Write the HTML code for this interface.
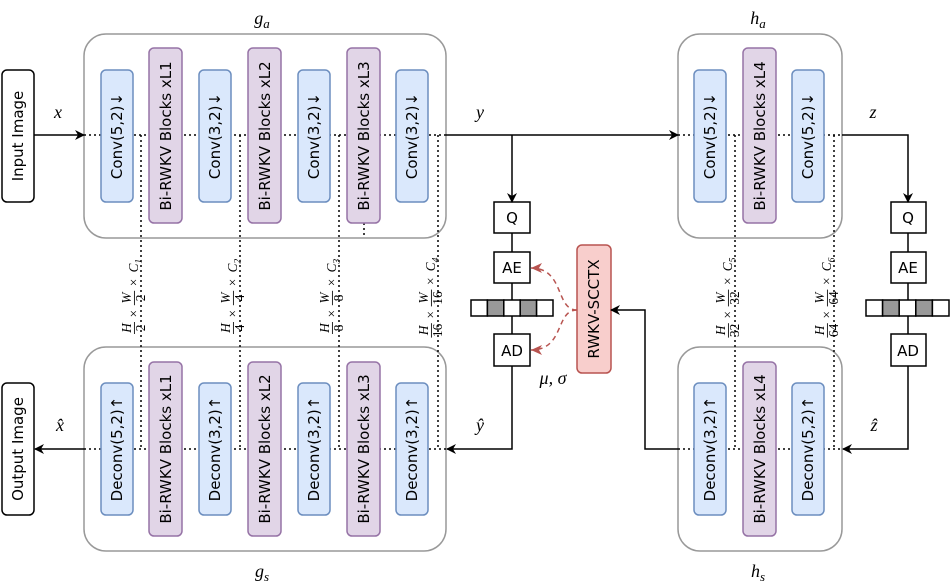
<!DOCTYPE html>
<html><head><meta charset="utf-8"><style>
html,body{margin:0;padding:0;background:#fff}
svg{display:block}
.t{font-family:"DejaVu Sans","Liberation Sans",sans-serif;font-size:15px;fill:#000}
.m{font-family:"Liberation Serif",serif;font-style:italic;fill:#000}
.d{font-family:"Liberation Serif",serif;font-size:11px;fill:#000}
.d .i{font-style:italic}
</style></head><body>
<svg width="951" height="586" viewBox="0 0 951 586" xmlns="http://www.w3.org/2000/svg">
<defs>
<marker id="a" markerWidth="10" markerHeight="10" refX="9" refY="5" orient="auto" markerUnits="userSpaceOnUse"><path d="M0,0 L10,5 L0,10 L3,5 Z" fill="#000"/></marker>
<marker id="r" markerWidth="12" markerHeight="12" refX="11" refY="6" orient="auto" markerUnits="userSpaceOnUse"><path d="M0,1 L11,6 L0,11 L3,6 Z" fill="#b85450"/></marker>
</defs>
<g fill="#fff" stroke="#999" stroke-width="1.5">
<rect x="84" y="34" width="362" height="204" rx="22"/>
<rect x="84" y="347" width="362" height="204" rx="22"/>
<rect x="678" y="34" width="164" height="204" rx="22"/>
<rect x="678" y="347" width="164" height="204" rx="22"/>
</g>
<g stroke="#000" stroke-width="1.5" stroke-dasharray="2,3" fill="none">
<line x1="84" y1="135" x2="446" y2="135"/>
<line x1="84" y1="449" x2="446" y2="449"/>
<line x1="678" y1="135" x2="842" y2="135"/>
<line x1="678" y1="449" x2="842" y2="449"/>
<line x1="141" y1="135" x2="141" y2="449"/>
<line x1="240" y1="135" x2="240" y2="449"/>
<line x1="339" y1="135" x2="339" y2="449"/>
<line x1="438" y1="135" x2="438" y2="449"/>
<line x1="735" y1="135" x2="735" y2="449"/>
<line x1="834" y1="135" x2="834" y2="449"/>
<line x1="364" y1="223" x2="364" y2="238"/>
</g>
<g stroke-width="1.5">
<g fill="#dae8fc" stroke="#6c8ebf">
<rect x="101" y="70" width="32" height="132" rx="5"/><rect x="199" y="70" width="32" height="132" rx="5"/><rect x="298" y="70" width="32" height="132" rx="5"/><rect x="396" y="70" width="32" height="132" rx="5"/>
<rect x="101" y="383" width="32" height="132" rx="5"/><rect x="199" y="383" width="32" height="132" rx="5"/><rect x="298" y="383" width="32" height="132" rx="5"/><rect x="396" y="383" width="32" height="132" rx="5"/>
<rect x="694" y="70" width="32" height="132" rx="5"/><rect x="792" y="70" width="32" height="132" rx="5"/>
<rect x="694" y="383" width="32" height="132" rx="5"/><rect x="792" y="383" width="32" height="132" rx="5"/>
</g>
<g fill="#e1d5e7" stroke="#9673a6">
<rect x="149" y="48" width="33" height="175" rx="5"/><rect x="248" y="48" width="33" height="175" rx="5"/><rect x="347" y="48" width="33" height="175" rx="5"/>
<rect x="149" y="362" width="33" height="174" rx="5"/><rect x="248" y="362" width="33" height="174" rx="5"/><rect x="347" y="362" width="33" height="174" rx="5"/>
<rect x="743" y="48" width="33" height="175" rx="5"/><rect x="743" y="362" width="33" height="174" rx="5"/>
</g>
<rect x="577" y="245" width="34" height="128" rx="5" fill="#f8cecc" stroke="#b85450"/>
<g fill="#fff" stroke="#000">
<rect x="2" y="70" width="32" height="132" rx="5"/><rect x="2" y="383" width="32" height="132" rx="5"/>
<rect x="494" y="202" width="36" height="31"/><rect x="494" y="252" width="36" height="31"/><rect x="494" y="334" width="36" height="32"/>
<rect x="891" y="202" width="35" height="31"/><rect x="891" y="252" width="35" height="31"/><rect x="891" y="334" width="35" height="32"/>
</g>
</g>
<g stroke="#000" stroke-width="1.5">
<rect x="471" y="300" width="16.4" height="16" fill="#fff"/><rect x="487.4" y="300" width="16.4" height="16" fill="#999"/><rect x="503.8" y="300" width="16.4" height="16" fill="#fff"/><rect x="520.2" y="300" width="16.4" height="16" fill="#999"/><rect x="536.6" y="300" width="16.4" height="16" fill="#fff"/>
<rect x="866" y="300" width="16.6" height="16" fill="#fff"/><rect x="882.6" y="300" width="16.6" height="16" fill="#999"/><rect x="899.2" y="300" width="16.6" height="16" fill="#fff"/><rect x="915.8" y="300" width="16.6" height="16" fill="#999"/><rect x="932.4" y="300" width="16.6" height="16" fill="#fff"/>
</g>
<g stroke="#000" stroke-width="1.5" fill="none">
<line x1="34" y1="135" x2="84" y2="135" marker-end="url(#a)"/>
<line x1="84" y1="449" x2="35" y2="449" marker-end="url(#a)"/>
<line x1="446" y1="135" x2="678" y2="135" marker-end="url(#a)"/>
<polyline points="512,135 512,202" marker-end="url(#a)"/>
<polyline points="842,135 908,135 908,202" marker-end="url(#a)"/>
<polyline points="512,366 512,449 447,449" marker-end="url(#a)"/>
<polyline points="908,366 908,449 843,449" marker-end="url(#a)"/>
<polyline points="678,449 645,449 645,310 611,310" marker-end="url(#a)"/>
<line x1="512" y1="233" x2="512" y2="252"/><line x1="512" y1="283" x2="512" y2="300"/><line x1="512" y1="316" x2="512" y2="334"/>
<line x1="908" y1="233" x2="908" y2="252"/><line x1="908" y1="283" x2="908" y2="300"/><line x1="908" y1="316" x2="908" y2="334"/>
</g>
<g stroke="#b85450" stroke-width="1.5" fill="none" stroke-dasharray="5,4">
<path d="M577,310 C555,310 565,268 531,268" marker-end="url(#r)"/>
<path d="M577,310 C555,310 565,350 531,350" marker-end="url(#r)"/>
</g>
<g class="t" text-anchor="middle" dominant-baseline="central">
<text transform="translate(18,136) rotate(-90)">Input Image</text>
<text transform="translate(18,449) rotate(-90)">Output Image</text>
<text transform="translate(117,136) rotate(-90)">Conv(5,2)↓</text>
<text transform="translate(215,136) rotate(-90)">Conv(3,2)↓</text>
<text transform="translate(314,136) rotate(-90)">Conv(3,2)↓</text>
<text transform="translate(412,136) rotate(-90)">Conv(3,2)↓</text>
<text transform="translate(710,136) rotate(-90)">Conv(5,2)↓</text>
<text transform="translate(808,136) rotate(-90)">Conv(5,2)↓</text>
<text transform="translate(117,449) rotate(-90)">Deconv(5,2)↑</text>
<text transform="translate(215,449) rotate(-90)">Deconv(3,2)↑</text>
<text transform="translate(314,449) rotate(-90)">Deconv(3,2)↑</text>
<text transform="translate(412,449) rotate(-90)">Deconv(3,2)↑</text>
<text transform="translate(710,449) rotate(-90)">Deconv(3,2)↑</text>
<text transform="translate(808,449) rotate(-90)">Deconv(5,2)↑</text>
<text transform="translate(166,136) rotate(-90)">Bi-RWKV Blocks xL1</text>
<text transform="translate(265,136) rotate(-90)">Bi-RWKV Blocks xL2</text>
<text transform="translate(364,136) rotate(-90)">Bi-RWKV Blocks xL3</text>
<text transform="translate(760,136) rotate(-90)">Bi-RWKV Blocks xL4</text>
<text transform="translate(166,449) rotate(-90)">Bi-RWKV Blocks xL1</text>
<text transform="translate(265,449) rotate(-90)">Bi-RWKV Blocks xL2</text>
<text transform="translate(364,449) rotate(-90)">Bi-RWKV Blocks xL3</text>
<text transform="translate(760,449) rotate(-90)">Bi-RWKV Blocks xL4</text>
<text transform="translate(594,309) rotate(-90)">RWKV-SCCTX</text>
<text x="512" y="218">Q</text><text x="512" y="268">AE</text><text x="512" y="351">AD</text>
<text x="908" y="218">Q</text><text x="908" y="268">AE</text><text x="908" y="351">AD</text>
</g>
<g class="d" text-anchor="middle">
<g transform="translate(132,292) rotate(-90) scale(1.2)">
<text class="i" x="-30" y="-1">H</text><line x1="-35" y1="2" x2="-25" y2="2" stroke="#000" stroke-width="0.7"/><text x="-30" y="11">2</text>
<text x="-18" y="5">×</text>
<text class="i" x="-5" y="-1">W</text><line x1="-11" y1="2" x2="1" y2="2" stroke="#000" stroke-width="0.7"/><text x="-5" y="11">2</text>
<text x="8" y="5">×</text>
<text class="i" x="22" y="5">C<tspan font-size="8" dy="3">1</tspan></text>
</g>
<g transform="translate(231,292) rotate(-90) scale(1.2)">
<text class="i" x="-30" y="-1">H</text><line x1="-35" y1="2" x2="-25" y2="2" stroke="#000" stroke-width="0.7"/><text x="-30" y="11">4</text>
<text x="-18" y="5">×</text>
<text class="i" x="-5" y="-1">W</text><line x1="-11" y1="2" x2="1" y2="2" stroke="#000" stroke-width="0.7"/><text x="-5" y="11">4</text>
<text x="8" y="5">×</text>
<text class="i" x="22" y="5">C<tspan font-size="8" dy="3">2</tspan></text>
</g>
<g transform="translate(330,292) rotate(-90) scale(1.2)">
<text class="i" x="-30" y="-1">H</text><line x1="-35" y1="2" x2="-25" y2="2" stroke="#000" stroke-width="0.7"/><text x="-30" y="11">8</text>
<text x="-18" y="5">×</text>
<text class="i" x="-5" y="-1">W</text><line x1="-11" y1="2" x2="1" y2="2" stroke="#000" stroke-width="0.7"/><text x="-5" y="11">8</text>
<text x="8" y="5">×</text>
<text class="i" x="22" y="5">C<tspan font-size="8" dy="3">3</tspan></text>
</g>
<g transform="translate(429,292) rotate(-90) scale(1.2)">
<text class="i" x="-32" y="-1">H</text><line x1="-38" y1="2" x2="-26" y2="2" stroke="#000" stroke-width="0.7"/><text x="-32" y="11">16</text>
<text x="-19" y="5">×</text>
<text class="i" x="-5" y="-1">W</text><line x1="-12" y1="2" x2="2" y2="2" stroke="#000" stroke-width="0.7"/><text x="-5" y="11">16</text>
<text x="9" y="5">×</text>
<text class="i" x="23" y="5">C<tspan font-size="8" dy="3">4</tspan></text>
</g>
<g transform="translate(726,292) rotate(-90) scale(1.2)">
<text class="i" x="-32" y="-1">H</text><line x1="-38" y1="2" x2="-26" y2="2" stroke="#000" stroke-width="0.7"/><text x="-32" y="11">32</text>
<text x="-19" y="5">×</text>
<text class="i" x="-5" y="-1">W</text><line x1="-12" y1="2" x2="2" y2="2" stroke="#000" stroke-width="0.7"/><text x="-5" y="11">32</text>
<text x="9" y="5">×</text>
<text class="i" x="23" y="5">C<tspan font-size="8" dy="3">5</tspan></text>
</g>
<g transform="translate(825,292) rotate(-90) scale(1.2)">
<text class="i" x="-32" y="-1">H</text><line x1="-38" y1="2" x2="-26" y2="2" stroke="#000" stroke-width="0.7"/><text x="-32" y="11">64</text>
<text x="-19" y="5">×</text>
<text class="i" x="-5" y="-1">W</text><line x1="-12" y1="2" x2="2" y2="2" stroke="#000" stroke-width="0.7"/><text x="-5" y="11">64</text>
<text x="9" y="5">×</text>
<text class="i" x="23" y="5">C<tspan font-size="8" dy="3">6</tspan></text>
</g>
</g>
<g class="m" font-size="18" text-anchor="middle">
<text x="58" y="118">x</text><text x="480" y="118">y</text><text x="873" y="118">z</text>
<text x="60" y="431">x̂</text><text x="480" y="431">ŷ</text><text x="874" y="431">ẑ</text>
<text x="262" y="24">g<tspan font-size="13" dy="4">a</tspan></text>
<text x="262" y="577">g<tspan font-size="13" dy="4">s</tspan></text>
<text x="758" y="24">h<tspan font-size="13" dy="4">a</tspan></text>
<text x="758" y="577">h<tspan font-size="13" dy="4">s</tspan></text>
<text x="553" y="384">μ, σ</text>
</g>
</svg>
</body></html>
